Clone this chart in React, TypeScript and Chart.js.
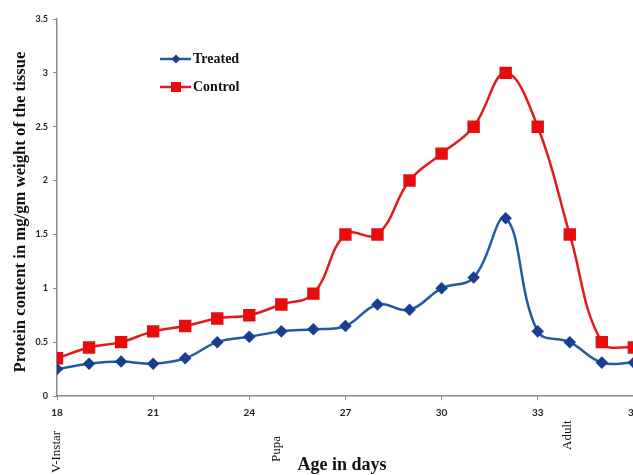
import React, { useEffect, useRef } from "react";
import { Chart, registerables } from "chart.js";

Chart.register(...registerables);

const days = [18, 19, 20, 21, 22, 23, 24, 25, 26, 27, 28, 29, 30, 31, 32, 33, 34, 35, 36];
const treated = [0.25, 0.3, 0.32, 0.3, 0.35, 0.5, 0.55, 0.6, 0.62, 0.65, 0.85, 0.8, 1.0, 1.1, 1.65, 0.6, 0.5, 0.31, 0.31];
const control = [0.35, 0.45, 0.5, 0.6, 0.65, 0.72, 0.75, 0.85, 0.95, 1.5, 1.5, 2.0, 2.25, 2.5, 3.0, 2.5, 1.5, 0.5, 0.45];
const xTicks = [18, 21, 24, 27, 30, 33, 36, 39];
const yTicks = [0, 0.5, 1, 1.5, 2, 2.5, 3, 3.5];
const seriesNames = ["Treated", "Control"];
const stageLabels = ["V-Instar", "Pupa", "Adult"];
const stageDays = [18, 24.85, 33.93];
const yTitle = "Protein content in mg/gm weight of the tissue";
const xTitle = "Age in days";

const BLUE_LINE = "#1f5ca6";
const BLUE_PT = "#1a3e92";
const RED_LINE = "#e2191d";
const RED_PT = "#e50d0d";

const overlayPlugin = {
  id: "overlay",
  afterDraw(chart: any) {
    const ctx = chart.ctx as CanvasRenderingContext2D;
    const xs = chart.scales.x;
    ctx.save();
    // legend
    const items = [
      { name: seriesNames[0], color: BLUE_LINE, pt: BLUE_PT, style: "rectRot", y: 59 },
      { name: seriesNames[1], color: RED_LINE, pt: RED_PT, style: "rect", y: 87 },
    ];
    items.forEach((it) => {
      ctx.strokeStyle = it.color;
      ctx.lineWidth = 2.5;
      ctx.beginPath();
      ctx.moveTo(160, it.y);
      ctx.lineTo(191, it.y);
      ctx.stroke();
      ctx.fillStyle = it.pt;
      ctx.beginPath();
      if (it.style === "rect") {
        ctx.rect(176 - 5, it.y - 5, 10, 10);
      } else {
        ctx.moveTo(176, it.y - 4.5);
        ctx.lineTo(180.5, it.y);
        ctx.lineTo(176, it.y + 4.5);
        ctx.lineTo(171.5, it.y);
        ctx.closePath();
      }
      ctx.fill();
      ctx.fillStyle = "#111";
      ctx.font = "bold 14px 'Liberation Serif'";
      ctx.textAlign = "left";
      ctx.textBaseline = "middle";
      ctx.fillText(it.name, 193, it.y);
    });
    // stage labels
    const bottoms = [473, 462, 450];
    ctx.font = "13px 'Liberation Serif'";
    ctx.fillStyle = "#111";
    stageLabels.forEach((s, i) => {
      const px = xs.getPixelForValue(stageDays[i]);
      ctx.save();
      ctx.translate(px, bottoms[i]);
      ctx.rotate(-Math.PI / 2);
      ctx.textAlign = "left";
      ctx.textBaseline = "middle";
      ctx.fillText(s, 0, 0);
      ctx.restore();
    });
    // y title
    ctx.save();
    ctx.translate(21, 212);
    ctx.rotate(-Math.PI / 2);
    ctx.font = "bold 16.7px 'Liberation Serif'";
    ctx.textAlign = "center";
    ctx.textBaseline = "middle";
    ctx.fillText(yTitle, 0, 0);
    ctx.restore();
    // x title
    ctx.font = "bold 18px 'Liberation Serif'";
    ctx.textAlign = "center";
    ctx.textBaseline = "middle";
    ctx.fillText(xTitle, 342, 465);
    ctx.restore();
  },
};

export default function App() {
  const ref = useRef<HTMLCanvasElement>(null);
  useEffect(() => {
    if (!ref.current) return;
    const chart = new Chart(ref.current, {
      type: "line",
      data: {
        datasets: [
          {
            label: seriesNames[0],
            data: days.map((d, i) => ({ x: d, y: treated[i] })),
            borderColor: BLUE_LINE,
            backgroundColor: BLUE_PT,
            pointBackgroundColor: BLUE_PT,
            pointBorderColor: BLUE_PT,
            pointStyle: "rectRot",
            pointRadius: 4.5,
            borderWidth: 2.5,
            tension: 0.4,
          },
          {
            label: seriesNames[1],
            data: days.map((d, i) => ({ x: d, y: control[i] })),
            borderColor: RED_LINE,
            backgroundColor: RED_PT,
            pointBackgroundColor: RED_PT,
            pointBorderColor: RED_PT,
            pointStyle: "rect",
            pointRadius: 7,
            borderWidth: 2.5,
            tension: 0.4,
          },
        ],
      },
      options: {
        responsive: false,
        animation: false,
        devicePixelRatio: 1,
        layout: { padding: { top: 19, right: 30, left: 0, bottom: 0 } },
        plugins: { legend: { display: false }, tooltip: { enabled: false } },
        scales: {
          x: {
            type: "linear",
            min: 18,
            max: 39,
            afterBuildTicks: (s: any) => {
              s.ticks = xTicks.map((v) => ({ value: v }));
            },
            afterFit: (s: any) => {
              s.height = 79;
            },
            border: { display: true, color: "#8a8a8a", width: 1.5 },
            grid: { display: true, drawOnChartArea: false, drawTicks: true, tickLength: 4, color: "#8a8a8a" },
            ticks: {
              padding: 7,
              maxRotation: 0,
              color: "#222",
              font: { family: "Lato", size: 10, weight: "bold" },
              callback: (v: any) => String(v),
            },
          },
          y: {
            min: 0,
            max: 3.5,
            afterBuildTicks: (s: any) => {
              s.ticks = yTicks.map((v) => ({ value: v }));
            },
            afterFit: (s: any) => {
              s.width = 57;
            },
            border: { display: true, color: "#8a8a8a", width: 1.5 },
            grid: { display: true, drawOnChartArea: false, drawTicks: true, tickLength: 4, color: "#8a8a8a" },
            ticks: {
              padding: 5,
              color: "#222",
              font: { family: "Lato", size: 9, weight: "bold" },
              callback: (v: any) => String(v),
            },
          },
        },
      },
      plugins: [overlayPlugin],
    });
    return () => chart.destroy();
  }, []);
  return (
    <div style={{ position: "fixed", left: 0, top: 0, width: 633, height: 475, overflow: "hidden", background: "#fff" }}>
      <canvas ref={ref} width={760} height={475} style={{ width: 760, height: 475, display: "block" }} />
    </div>
  );
}
